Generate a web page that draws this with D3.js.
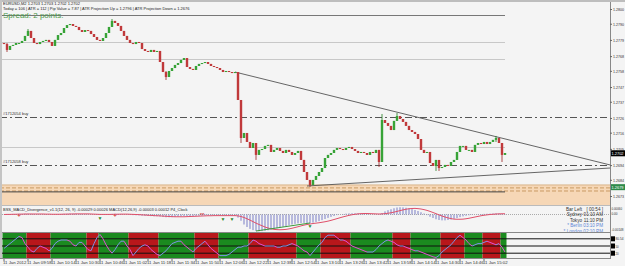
<!DOCTYPE html>
<html>
<head>
<meta charset="utf-8">
<script src="https://cdn.jsdelivr.net/npm/d3@7"></script>
<style>
  body { margin: 0; background: #f4f4f4; }
  svg text { font-family: "Liberation Sans", Arial, sans-serif; }
</style>
</head>
<body>
<div class="chart"></div>
<script>
// ---- data ----
const closes = [
  1.27762, 1.27722, 1.27749, 1.27756, 1.27769, 1.27769, 1.27783, 1.27817, 1.27851, 1.27803,
  1.27769, 1.27762, 1.27776, 1.27783, 1.27790, 1.27776, 1.27749, 1.27790, 1.27823, 1.27837,
  1.27871, 1.27891, 1.27898, 1.27885, 1.27878, 1.27857, 1.27844, 1.27857, 1.27851, 1.27830,
  1.27810, 1.27790, 1.27783, 1.27803, 1.27837, 1.27878, 1.27919, 1.27905, 1.27885, 1.27851,
  1.27817, 1.27790, 1.27769, 1.27762, 1.27776, 1.27769, 1.27728, 1.27715, 1.27708, 1.27722,
  1.27708, 1.27715, 1.27640, 1.27572, 1.27538, 1.27579, 1.27599, 1.27620, 1.27633, 1.27654,
  1.27667, 1.27606, 1.27593, 1.27586, 1.27613, 1.27627, 1.27633, 1.27640, 1.27627, 1.27613,
  1.27606, 1.27599, 1.27586, 1.27572, 1.27579, 1.27572, 1.27565, 1.27572, 1.27382, 1.27124,
  1.27158, 1.27097, 1.27056, 1.27090, 1.27009, 1.27043, 1.27049, 1.27070, 1.27077, 1.27029,
  1.27043, 1.27056, 1.27036, 1.27022, 1.27043, 1.27029, 1.27009, 1.27022, 1.27036, 1.26975,
  1.26893, 1.26839, 1.26805, 1.26839, 1.26866, 1.26893, 1.26920, 1.26988, 1.27009, 1.27022,
  1.27043, 1.27056, 1.27049, 1.27043, 1.27056, 1.27063, 1.27049, 1.27036, 1.27022, 1.27029,
  1.27022, 1.27009, 1.27029, 1.27022, 1.27043, 1.26961, 1.27246, 1.27226, 1.27206, 1.27178,
  1.27240, 1.27273, 1.27253, 1.27233, 1.27206, 1.27178, 1.27165, 1.27151, 1.27117, 1.27043,
  1.27022, 1.27029, 1.26954, 1.26934, 1.26975, 1.26920, 1.26927, 1.26941, 1.26934, 1.26961,
  1.26975, 1.27029, 1.27070, 1.27070, 1.27043, 1.27043, 1.27029, 1.27077, 1.27090, 1.27083,
  1.27097, 1.27083, 1.27097, 1.27111, 1.27124, 1.27090, 1.27009, 1.27022
];
const firstOpen = 1.27769;
// bars with a visible wick: [bar, high, low]
const wicks = [
  [1, 1.27769, 1.27708], [8, 1.27864, 1.27830], [36, 1.27932, 1.27878], [54, 1.27579, 1.27518],
  [79, 1.27382, 1.27090], [84, 1.27056, 1.26975], [102, 1.26839, 1.26791], [125, 1.27043, 1.26927],
  [126, 1.27287, 1.26961], [131, 1.27294, 1.27240], [144, 1.26975, 1.26900], [145, 1.26961, 1.26900],
  [164, 1.27138, 1.27097], [166, 1.27090, 1.26961]
];

const timeLabels = ["11 Jan 2012", "11 Jan 09:58", "11 Jan 10:14", "11 Jan 10:30", "11 Jan 10:46",
  "11 Jan 11:02", "11 Jan 11:18", "11 Jan 11:34", "11 Jan 11:50", "11 Jan 12:06", "11 Jan 12:22",
  "11 Jan 12:38", "11 Jan 12:54", "11 Jan 13:10", "11 Jan 13:26", "11 Jan 13:42", "11 Jan 13:58",
  "11 Jan 14:14", "11 Jan 14:30", "11 Jan 14:46", "11 Jan 15:02"];
const barsPerLabel = 8;

const priceTicks = [1.2800, 1.2790, 1.2779, 1.2768, 1.2758, 1.2747, 1.2737, 1.2726, 1.2716,
  1.2705, 1.2694, 1.2684, 1.2673];
const lastPrice = 1.2702;
const zonePrice = 1.2679;

// horizontal levels: [price, style]
const levels = [[1.27960, "dark"], [1.27776, "light"], [1.27661, "light"], [1.27063, "light"]];
const orders = [[1.27267, "#1712054 buy"], [1.26941, "#1712058 buy"]];
const zone = [1.26805, 1.26669];
const zoneDashes = [1.26785, 1.26764];
const atrDown = 1.26758;
// trend lines [bar1, price1, bar2, price2]
const trendLines = [[77, 1.27572, 202, 1.26941], [101, 1.26798, 202, 1.26920]];

// MACD in points (1 point = 0.00001)
const macdPts = [
  2, 3, 3, 4, 4, 5, 5, 6, 6, 5,   4, 3, 3, 2, 2, 1, 0, 1, 2, 3,
  5, 6, 7, 7, 6, 5, 4, 3, 2, 1,   0, -1, -2, -1, 1, 3, 5, 6, 5, 3,
  1, -1, -3, -5, -6, -7, -9, -11, -12, -13,   -14, -14, -16, -19, -22, -22, -21, -19, -17, -15,
  -13, -13, -13, -12, -11, -10, -9, -8, -8, -8,   -8, -8, -9, -10, -10, -10, -10, -10, -25, -50,
  -80, -100, -115, -125, -132, -134, -133, -130, -126, -121,   -116, -110, -104, -98, -92, -86, -80, -75, -71, -68,
  -67, -68, -68, -65, -60, -53, -45, -36, -27, -19,   -12, -5, 0, 4, 7, 9, 10, 10, 9, 7,
  5, 3, 2, 1, 1, -2, 12, 25, 35, 42,   50, 56, 58, 57, 54, 49, 43, 36, 28, 18,
  8, -5, -18, -28, -38, -44, -47, -47, -44, -40,   -35, -28, -21, -15, -10, -6, -3, 0, 2, 4,
  5, 6, 7, 8, 9, 8, 5, 3
];
const signalPts = [
  0, 1, 1, 2, 2, 3, 3, 4, 4, 4,   4, 4, 4, 4, 3, 3, 2, 2, 2, 2,
  3, 3, 4, 4, 5, 5, 5, 5, 5, 4,   3, 2, 1, 1, 1, 1, 1, 2, 2, 3,
  3, 3, 2, 1, 0, -1, -3, -4, -6, -7,   -9, -10, -11, -13, -14, -16, -17, -18, -18, -18,
  -18, -17, -16, -15, -14, -13, -12, -11, -10, -10,   -9, -9, -9, -9, -9, -9, -9, -9, -11, -16,
  -24, -34, -45, -57, -69, -80, -90, -100, -108, -114,   -119, -121, -122, -121, -119, -115, -110, -104, -98, -91,
  -85, -80, -76, -72, -69, -66, -62, -58, -53, -47,   -40, -33, -26, -19, -13, -7, -2, 2, 5, 7,
  8, 8, 7, 6, 5, 4, 5, 7, 10, 14,   19, 25, 31, 37, 42, 46, 48, 49, 47, 44,
  39, 33, 25, 16, 7, -3, -12, -20, -27, -33,   -37, -38, -38, -37, -34, -30, -25, -20, -15, -10,
  -6, -3, 0, 2, 4, 5, 6, 6
];
const macdTicks = [["0.00060", 209.5], ["0.00", 215], ["-0.00148", 230.5]];
const macdArrows = [32, 73, 76, 102];
const macdStars = [[5, "+"], [37, "+"], [66, "**"]];
const divergence = [84, 102];

// oscillator 0..100
const osc = [
  40, 50, 60, 70, 80, 90, 85, 60, 45, 30,   25, 40, 50, 45, 40, 30, 40, 60, 70, 75,
  75, 75, 70, 55, 50, 65, 65, 50, 35, 30,   60, 85, 98, 80, 55, 35, 20, 35, 55, 70,
  70, 50, 35, 10, 25, 40, 50, 55, 50, 35,   25, 15, 10, 20, 30, 45, 60, 65, 70, 70,
  55, 45, 35, 25, 40, 50, 60, 70, 55, 40,   30, 20, 10, 10, 10, 15, 25, 35, 45, 45,
  50, 50, 60, 75, 70, 60, 55, 50, 50, 50,   50, 45, 45, 50, 50, 55, 60, 55, 50, 40,
  30, 25, 10, 25, 40, 55, 65, 85, 95, 95,   95, 85, 75, 75, 70, 60, 50, 45, 40, 35,
  30, 25, 25, 25, 35, 50, 60, 70, 75, 70,   65, 55, 50, 50, 45, 40, 35, 30, 30, 25,
  20, 15, 10, 5, 2, 10, 25, 35, 45, 55,   70, 85, 95, 85, 75, 60, 50, 55, 60, 60,
  65, 70, 65, 60, 55, 60, 45, 25
];
const oscLevels = [80, 50, 20];
const oscTicks = ["80.54", "50", "20"];
// trend background runs: [colour, number of bars]
const trendRuns = [["g", 8], ["r", 8], ["g", 12], ["r", 4], ["g", 10], ["r", 10], ["g", 12], ["r", 8],
  ["g", 10], ["r", 16], ["g", 8], ["r", 10], ["g", 14], ["r", 6], ["g", 10], ["r", 8], ["g", 6], ["r", 6], ["g", 2]];

const clockRows = [["Bar Left", "[ 00:54 ]", "#333"], ["Sydney", "01:10 AM", "#333"], ["Tokyo", "11:10 PM", "#333"],
  ["* Berlin", "03:10 PM", "#5b84d6"], ["* London", "02:10 PM", "#5b84d6"]];

// ---- layout ----
const W = 625, H = 266;
const axisX = 610;
const macdP = {top: 206, bottom: 232};
const oscP = {top: 233, bottom: 258};
const N = closes.length;

const svg = d3.select(".chart").append("svg")
  .attr("width", W).attr("height", H)
  .style("display", "block");

svg.append("rect").attr("width", W).attr("height", H).attr("fill", "#f4f4f4");

const xScale = d3.scaleLinear().domain([0, N - 1]).range([4, 505]);
const yScale = d3.scaleLinear().domain([1.2673, 1.2800]).range([196, 9]);
const yMacd = d3.scaleLinear().domain([-0.00140, 0.00060]).range([232, 207]);
const yOsc = d3.scaleLinear().domain([0, 100]).range([258, 234]);

const bars = closes.map((c, i) => {
  const o = i === 0 ? firstOpen : closes[i - 1];
  return {i, o, c, h: Math.max(o, c), l: Math.min(o, c)};
});
wicks.forEach(([i, h, l]) => { bars[i].h = h; bars[i].l = l; });

// ---- main panel furniture ----
const g = svg.append("g");

g.append("rect")
  .attr("x", 0).attr("width", axisX)
  .attr("y", yScale(zone[0])).attr("height", yScale(zone[1]) - yScale(zone[0]))
  .attr("fill", "#f6d7b6");
g.append("line")
  .attr("x1", 0).attr("x2", axisX)
  .attr("y1", yScale(zone[0])).attr("y2", yScale(zone[0]))
  .attr("stroke", "#d9b48a");
g.selectAll(".zdash").data(zoneDashes).enter().append("line")
  .attr("x1", 0).attr("x2", axisX)
  .attr("y1", d => yScale(d)).attr("y2", d => yScale(d))
  .attr("stroke", "#c99b63").attr("stroke-dasharray", "4,2");
g.append("line")
  .attr("x1", 0).attr("x2", xScale(N - 1))
  .attr("y1", yScale(atrDown)).attr("y2", yScale(atrDown))
  .attr("stroke", "#444").attr("stroke-width", 1);

g.selectAll(".lvl").data(levels).enter().append("line")
  .attr("x1", 0).attr("x2", xScale(N - 1))
  .attr("y1", d => Math.round(yScale(d[0])) + 0.5).attr("y2", d => Math.round(yScale(d[0])) + 0.5)
  .attr("stroke", d => d[1] === "dark" ? "#777" : "#c8c8c8");

g.selectAll(".ord").data(orders).enter().append("line")
  .attr("x1", 0).attr("x2", axisX)
  .attr("y1", d => Math.round(yScale(d[0])) + 0.5).attr("y2", d => Math.round(yScale(d[0])) + 0.5)
  .attr("stroke", "#555").attr("stroke-dasharray", "7,3,2,3");
g.selectAll(".ordt").data(orders).enter().append("text")
  .attr("x", 3).attr("y", d => yScale(d[0]) - 1.5)
  .attr("font-size", "4px").attr("fill", "#333")
  .text(d => d[1]);

g.selectAll(".trend").data(trendLines).enter().append("line")
  .attr("x1", d => xScale(d[0])).attr("y1", d => yScale(d[1]))
  .attr("x2", d => xScale(d[2])).attr("y2", d => yScale(d[3]))
  .attr("stroke", "#555").attr("stroke-width", 0.9);

// candles
const candle = g.selectAll(".candle").data(bars).enter().append("g");
candle.append("line")
  .attr("x1", d => xScale(d.i)).attr("x2", d => xScale(d.i))
  .attr("y1", d => yScale(d.h)).attr("y2", d => yScale(d.l))
  .attr("stroke", d => d.c >= d.o ? "#1f7d1f" : "#9b2020").attr("stroke-width", 0.8);
candle.append("rect")
  .attr("x", d => xScale(d.i) - 1.2).attr("width", 2.4)
  .attr("y", d => yScale(Math.max(d.o, d.c)))
  .attr("height", d => Math.max(1, yScale(Math.min(d.o, d.c)) - yScale(Math.max(d.o, d.c))))
  .attr("fill", d => d.c >= d.o ? "#37a337" : "#c0393b");

// header
g.append("text").attr("x", 3).attr("y", 5).attr("font-size", "4px").attr("fill", "#222")
  .text("EURUSD,M2  1.2703 1.2703 1.2702 1.2702");
g.append("text").attr("x", 3).attr("y", 9.5).attr("font-size", "4px").attr("fill", "#222")
  .text("Today = 106   |   ATR = 112   |   Pip Value = 7.87   |   ATR Projection Up = 1.2796   |   ATR Projection Down = 1.2676");
g.append("text").attr("x", 3).attr("y", 18).attr("font-size", "8px").attr("fill", "#4c9a4c")
  .text("Spread: 2 points.");

// ---- MACD panel ----
const m = svg.append("g");
m.append("line").attr("x1", 0).attr("x2", axisX).attr("y1", macdP.top - 0.5).attr("y2", macdP.top - 0.5).attr("stroke", "#bbb");
m.append("line")
  .attr("x1", 0).attr("x2", axisX).attr("y1", yMacd(0)).attr("y2", yMacd(0))
  .attr("stroke", "#aaa").attr("stroke-dasharray", "1,1");
m.selectAll(".hist").data(macdPts).enter().append("line")
  .attr("x1", (d, i) => xScale(i)).attr("x2", (d, i) => xScale(i))
  .attr("y1", yMacd(0)).attr("y2", d => yMacd(d * 1e-5))
  .attr("stroke", "#7a7fc6").attr("stroke-width", 1);
m.append("path")
  .datum(signalPts)
  .attr("d", d3.line().x((d, i) => xScale(i)).y(d => yMacd(d * 1e-5)))
  .attr("fill", "none").attr("stroke", "#e0506a").attr("stroke-width", 1);
m.append("line")
  .attr("x1", xScale(divergence[0])).attr("y1", yMacd(macdPts[divergence[0]] * 1e-5))
  .attr("x2", xScale(divergence[1])).attr("y2", yMacd(macdPts[divergence[1]] * 1e-5))
  .attr("stroke", "#3c9a3c");
m.selectAll(".arr").data(macdArrows).enter().append("text")
  .attr("x", d => xScale(d)).attr("y", d => yMacd(macdPts[d] * 1e-5) + 5)
  .attr("text-anchor", "middle").attr("font-size", "5px").attr("fill", "#2d8a2d")
  .text("▼");
m.selectAll(".star").data(macdStars).enter().append("text")
  .attr("x", d => xScale(d[0])).attr("y", 217)
  .attr("text-anchor", "middle").attr("font-size", "6px").attr("fill", "#d02020")
  .text(d => d[1]);
m.append("text").attr("x", 3).attr("y", 210.5).attr("font-size", "4px").attr("fill", "#222")
  .text("BSS_MACD_Divergence_v1.1(12, 26, 9) -0.00029 0.00026   MACD(12,26,9) -0.00003 0.00012   P4_Clock");

// clock
const clock = m.selectAll(".clock").data(clockRows).enter().append("g");
clock.append("text").attr("x", 582).attr("y", (d, i) => 211 + i * 5.4)
  .attr("text-anchor", "end").attr("font-size", "4.6px").attr("fill", d => d[2]).text(d => d[0]);
clock.append("text").attr("x", 603).attr("y", (d, i) => 211 + i * 5.4)
  .attr("text-anchor", "end").attr("font-size", "4.6px").attr("fill", d => d[2]).text(d => d[1]);

// ---- oscillator panel ----
let start = 0;
const runs = trendRuns.map(([c, n]) => { const r = {c, s: start, n}; start += n; return r; });
const o = svg.append("g");
o.selectAll(".run").data(runs).enter().append("rect")
  .attr("x", d => xScale(d.s) - 1.5).attr("width", d => d.n * (xScale(1) - xScale(0)))
  .attr("y", oscP.top).attr("height", oscP.bottom - oscP.top)
  .attr("fill", d => d.c === "g" ? "#1b8a1f" : "#b8171b");
o.selectAll(".lv").data(oscLevels).enter().append("line")
  .attr("x1", 0).attr("x2", axisX).attr("y1", d => yOsc(d)).attr("y2", d => yOsc(d))
  .attr("stroke", "#111").attr("stroke-width", 1);
o.append("line").attr("x1", 0).attr("x2", axisX).attr("y1", oscP.top - 0.5).attr("y2", oscP.top - 0.5).attr("stroke", "#888");
o.append("line").attr("x1", 0).attr("x2", axisX).attr("y1", oscP.bottom + 0.5).attr("y2", oscP.bottom + 0.5).attr("stroke", "#888");
o.selectAll(".seg").data(osc.slice(1)).enter().append("line")
  .attr("x1", (d, i) => xScale(i)).attr("y1", (d, i) => yOsc(osc[i]))
  .attr("x2", (d, i) => xScale(i + 1)).attr("y2", d => yOsc(d))
  .attr("stroke", (d, i) => d >= osc[i] ? "#7c95e6" : "#e34fd2").attr("stroke-width", 1);

// ---- right axis ----
const ax = svg.append("g");
ax.append("line").attr("x1", axisX + 0.5).attr("x2", axisX + 0.5).attr("y1", 0).attr("y2", oscP.bottom + 1)
  .attr("stroke", "#888");
ax.append("rect").attr("x", 0).attr("y", 0).attr("width", W).attr("height", 2).attr("fill", "#bdbdbd");
ax.append("rect").attr("x", 0).attr("y", 0).attr("width", 2).attr("height", oscP.bottom).attr("fill", "#c4c4c4");

const priceAxis = d3.axisRight(yScale).tickValues(priceTicks).tickFormat(d3.format(".4f")).tickSize(2).tickPadding(1);
ax.append("g").attr("transform", `translate(${axisX},0)`).call(priceAxis)
  .call(s => s.select(".domain").remove())
  .call(s => s.selectAll("text")
    .attr("font-size", "4.2px").attr("fill", "#333")
    .attr("textLength", 11).attr("lengthAdjust", "spacingAndGlyphs"))
  .call(s => s.selectAll("line").attr("stroke", "#666"));

function tag(y, label, bg) {
  ax.append("rect").attr("x", axisX + 1).attr("y", y - 3).attr("width", 14).attr("height", 6).attr("fill", bg);
  ax.append("text").attr("x", axisX + 1.5).attr("y", y + 1.6).attr("font-size", "4.2px").attr("fill", "#fff")
    .attr("textLength", 12).attr("lengthAdjust", "spacingAndGlyphs").text(label);
}
tag(yScale(lastPrice), d3.format(".4f")(lastPrice), "#000");
tag(yScale(zonePrice), d3.format(".4f")(zonePrice), "#2e8a4a");

ax.selectAll(".mt").data(macdTicks).enter().append("text")
  .attr("x", axisX + 1.5).attr("y", d => d[1])
  .attr("font-size", "3.8px").attr("fill", "#333")
  .attr("textLength", d => Math.min(12, d[0].length * 1.5)).attr("lengthAdjust", "spacingAndGlyphs")
  .text(d => d[0]);
oscTicks.forEach((t, i) => {
  const y = yOsc(oscLevels[i]);
  ax.append("rect").attr("x", axisX + 1).attr("y", y - 2.5).attr("width", 4).attr("height", 5).attr("fill", "#000");
  ax.append("text").attr("x", axisX + 5.5).attr("y", y + 1.5).attr("font-size", "4px").attr("fill", "#333")
    .attr("textLength", t.length * 1.6).attr("lengthAdjust", "spacingAndGlyphs").text(t);
});

// ---- time axis ----
const tlabels = svg.append("g");
tlabels.selectAll("text").data(timeLabels).enter().append("text")
  .attr("x", (d, i) => xScale(i * barsPerLabel) - 1).attr("y", 264)
  .attr("font-size", "4.3px").attr("fill", "#333").text(d => d);
tlabels.selectAll("line").data(timeLabels).enter().append("line")
  .attr("x1", (d, i) => xScale(i * barsPerLabel)).attr("x2", (d, i) => xScale(i * barsPerLabel))
  .attr("y1", oscP.bottom + 1).attr("y2", oscP.bottom + 3).attr("stroke", "#666");
</script>
</body>
</html>
